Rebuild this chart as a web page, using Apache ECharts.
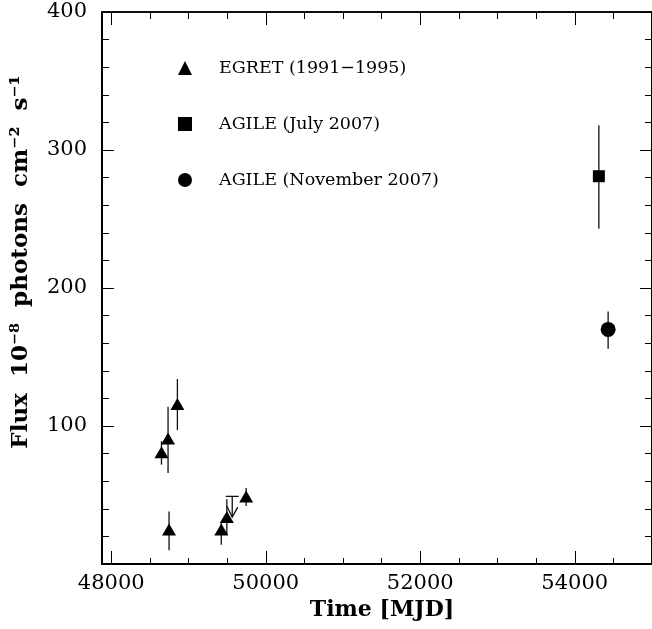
<!DOCTYPE html>
<html>
<head>
<meta charset="utf-8">
<script src="https://cdn.jsdelivr.net/npm/echarts@6/dist/echarts.min.js"></script>
<style>html,body{margin:0;padding:0;background:#fff;}#c{width:652px;height:629px;}</style>
</head>
<body>
<div id="c"></div>
<script>
// ---- data ----
const egretMJD   = [48650, 48735, 48856, 48748, 49424, 49496, 49746];
const egretFlux  = [81, 91, 116, 25, 25, 34, 49];
const egretLow   = [72, 66, 97, 10, 14, 21, 42];
const egretHigh  = [89, 114, 134, 38, 30, 47, 55];

const ulMJD  = [49566];
const ulFlux = [49];
const ulTip  = [34];

const agileJulMJD = [54312];
const agileJulFlux = [281];
const agileJulLow = [243];
const agileJulHigh = [318];

const agileNovMJD = [54432];
const agileNovFlux = [170];
const agileNovLow = [156];
const agileNovHigh = [183];

const seriesNames = ['EGRET (1991\u22121995)', 'AGILE (July 2007)', 'AGILE (November 2007)'];

const xMajorTicks = [48000, 50000, 52000, 54000];
const xMinorTicks = [48500, 49000, 49500, 50500, 51000, 51500, 52500, 53000, 53500, 54500];
const xMin = 47880, xMax = 55000;
const yMin = 0, yMax = 400, yStep = 100;

// ---- build ----
const FONT = 'DejaVu Serif';
const errData = [];
egretMJD.forEach((x, i) => errData.push([x, egretLow[i], egretHigh[i]]));
agileJulMJD.forEach((x, i) => errData.push([x, agileJulLow[i], agileJulHigh[i]]));
agileNovMJD.forEach((x, i) => errData.push([x, agileNovLow[i], agileNovHigh[i]]));

const chart = echarts.init(document.getElementById('c'), null, {renderer: 'canvas'});

function xAx(pos, values, len, showLabel, lw) {
  return {
    type: 'value', gridIndex: 0, position: pos, min: xMin, max: xMax,
    axisLine: {show: true, lineStyle: {color: '#000', width: lw}},
    axisTick: {show: true, inside: true, length: len, customValues: values, lineStyle: {color: '#000', width: 1}},
    axisLabel: {show: showLabel, customValues: xMajorTicks, margin: 9, color: '#000', fontFamily: FONT, fontSize: 21,
      formatter: v => String(v)},
    splitLine: {show: false}
  };
}
function yAx(pos, showLabel, lw) {
  return {
    type: 'value', gridIndex: 0, position: pos, min: yMin, max: yMax, interval: yStep,
    axisLine: {show: true, lineStyle: {color: '#000', width: lw}},
    axisTick: {show: true, inside: true, length: 12, lineStyle: {color: '#000', width: 1}},
    minorTick: {show: true, splitNumber: 5, length: 7, lineStyle: {color: '#000', width: 1}},
    axisLabel: {show: showLabel, showMinLabel: false, margin: 15, color: '#000', fontFamily: FONT, fontSize: 21,
      formatter: v => (v === yMin ? '' : String(v))},
    splitLine: {show: false}, minorSplitLine: {show: false}
  };
}

const xAxes = [
  Object.assign(xAx('bottom', xMajorTicks, 13, true, 2), {
    name: 'Time [MJD]', nameLocation: 'middle', nameGap: 35,
    nameTextStyle: {fontFamily: FONT, fontWeight: 'bold', fontSize: 22, color: '#000', padding: [0, 0, 0, 10]}
  }),
  xAx('bottom', xMinorTicks, 6, false, 2),
  xAx('top', xMajorTicks, 13, false, 1.5),
  xAx('top', xMinorTicks, 7, false, 1.5)
];
const yAxes = [
  Object.assign(yAx('left', true, 2), {
    name: 'Flux  10\u207B\u2078  photons  cm\u207B\u00B2  s\u207B\u00B9', nameLocation: 'middle', nameGap: 69, nameRotate: 90,
    nameTextStyle: {fontFamily: FONT, fontWeight: 'bold', fontSize: 23, color: '#000', padding: [0, 0, 0, 52]}
  }),
  yAx('right', false, 2)
];

const option = {
  backgroundColor: '#fff',
  animation: false,
  grid: {left: 102, top: 12, right: -2, bottom: 65, containLabel: false},
  legend: {
    orient: 'vertical', left: 173, top: 54, itemGap: 38, itemWidth: 14, itemHeight: 14,
    data: seriesNames,
    textStyle: {fontFamily: FONT, fontSize: 17.5, color: '#000', padding: [0, 0, 0, 22]},
    selectedMode: false
  },
  xAxis: xAxes,
  yAxis: yAxes,
  series: [
    {
      type: 'custom', name: 'errors', xAxisIndex: 0, yAxisIndex: 0, z: 1,
      data: errData,
      renderItem: (params, api) => {
        const x = api.value(0);
        const p1 = api.coord([x, api.value(1)]);
        const p2 = api.coord([x, api.value(2)]);
        return {type: 'line', shape: {x1: p1[0], y1: p1[1], x2: p2[0], y2: p2[1]},
          style: {stroke: '#111', lineWidth: 1.3}};
      }
    },
    {
      type: 'custom', name: 'upper limit', xAxisIndex: 0, yAxisIndex: 0, z: 1,
      data: ulMJD.map((x, i) => [x, ulFlux[i], ulTip[i]]),
      renderItem: (params, api) => {
        const p = api.coord([api.value(0), api.value(1)]);
        const t = api.coord([api.value(0), api.value(2)]);
        return {type: 'group', children: [
          {type: 'line', shape: {x1: p[0] - 6.5, y1: p[1], x2: p[0] + 6.5, y2: p[1]}, style: {stroke: '#111', lineWidth: 1.3}},
          {type: 'line', shape: {x1: p[0], y1: p[1], x2: t[0], y2: t[1]}, style: {stroke: '#111', lineWidth: 1.3}},
          {type: 'polyline', shape: {points: [[t[0] - 5.5, t[1] - 11], [t[0], t[1]], [t[0] + 5.5, t[1] - 10]]}, style: {stroke: '#111', lineWidth: 1.3, fill: null}}
        ]};
      }
    },
    {
      type: 'scatter', name: seriesNames[0], symbol: 'triangle', symbolSize: [14, 12], z: 3,
      itemStyle: {color: '#000', opacity: 1},
      data: egretMJD.map((x, i) => [x, egretFlux[i]])
    },
    {
      type: 'scatter', name: seriesNames[1], symbol: 'rect', symbolSize: 12, z: 3,
      itemStyle: {color: '#000', opacity: 1},
      data: agileJulMJD.map((x, i) => [x, agileJulFlux[i]])
    },
    {
      type: 'scatter', name: seriesNames[2], symbol: 'circle', symbolSize: 15, z: 3,
      itemStyle: {color: '#000', opacity: 1},
      data: agileNovMJD.map((x, i) => [x, agileNovFlux[i]])
    }
  ]
};
chart.setOption(option);
</script>
</body>
</html>
